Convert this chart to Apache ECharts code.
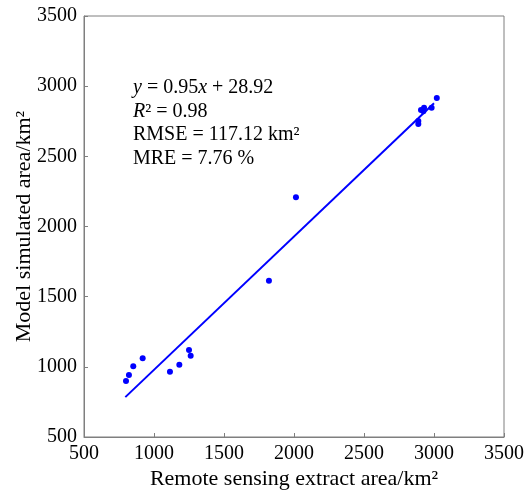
<!DOCTYPE html>
<html>
<head>
<meta charset="utf-8">
<script src="https://cdn.jsdelivr.net/npm/echarts@6/dist/echarts.min.js"></script>
<style>
  html, body { margin: 0; padding: 0; background: #fff; }
  #chart { width: 527px; height: 494px; }
</style>
</head>
<body>
<div id="chart"></div>
<script>
// Remote-sensing extracted area vs. model simulated area (km²)
const extractArea = [800, 821, 852, 919, 1114, 1181, 1250, 1262, 1821, 2014, 2888, 2888, 2907, 2924, 2929, 2983, 3020];
const simulatedArea = [899, 942, 1004, 1061, 965, 1015, 1120, 1079, 1614, 2208, 2752, 2731, 2831, 2821, 2847, 2847, 2916];

// Fitted line y = slope * x + intercept, drawn over this x range
const slope = 0.95;
const intercept = 28.92;
const fitRange = [795, 3000];

const axisTicks = [500, 1000, 1500, 2000, 2500, 3000, 3500];

const points = extractArea.map((x, i) => [x, simulatedArea[i]]);
const fitLine = fitRange.map(x => [x, slope * x + intercept]);

const serif = '"Liberation Serif", "DejaVu Serif", serif';
const chart = echarts.init(document.getElementById('chart'));

const axisCommon = {
  type: 'value',
  min: axisTicks[0],
  max: axisTicks[axisTicks.length - 1],
  interval: 500,
  splitLine: { show: false },
  axisLine: { show: true, onZero: false, lineStyle: { color: '#7f7f7f', width: 1 } },
  axisTick: { show: true, inside: true, length: 4, lineStyle: { color: '#7f7f7f' } },
  axisLabel: { color: '#000', fontFamily: serif, fontSize: 20, margin: 7, formatter: v => String(v) },
  nameLocation: 'middle',
  nameMoveOverlap: false,
  nameTextStyle: { color: '#000', fontFamily: serif, fontSize: 22 }
};

chart.setOption({
  animation: false,
  backgroundColor: '#fff',
  grid: {
    left: 84, right: 23, top: 16, bottom: 57,
    outerBoundsMode: 'none',
    containLabel: false,
    show: true, borderColor: '#7f7f7f', borderWidth: 1
  },
  xAxis: Object.assign({}, axisCommon, {
    name: 'Remote sensing extract area/km²',
    nameGap: 31
  }),
  yAxis: Object.assign({}, axisCommon, {
    name: 'Model simulated area/km²',
    nameGap: 49
  }),
  series: [
    {
      type: 'line',
      data: fitLine,
      symbol: 'none',
      lineStyle: { color: '#0000ff', width: 2 },
      z: 2
    },
    {
      type: 'scatter',
      data: points,
      symbol: 'circle',
      symbolSize: 6,
      itemStyle: { color: '#0000ff', opacity: 1 },
      z: 3
    }
  ],
  graphic: [{
    type: 'text',
    left: 133,
    top: 76,
    style: {
      text: [
        '{i|y} = 0.95{i|x} + 28.92',
        '{i|R}² = 0.98',
        'RMSE = 117.12 km²',
        'MRE = 7.76 %'
      ].join('\n'),
      fontFamily: serif,
      fontSize: 20,
      lineHeight: 23.5,
      fill: '#000',
      rich: {
        i: { fontFamily: serif, fontSize: 20, fontStyle: 'italic', fill: '#000', lineHeight: 23.5 }
      }
    }
  }]
});
</script>
</body>
</html>
